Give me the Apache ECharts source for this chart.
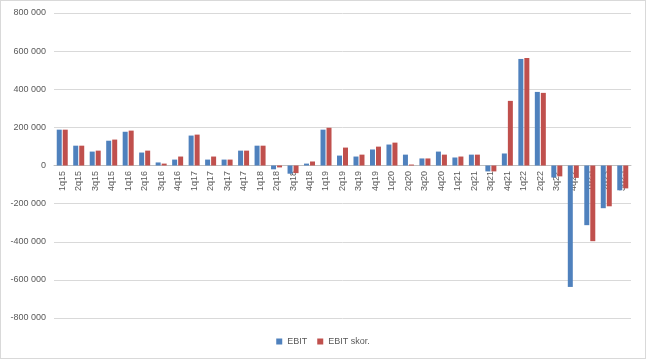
<!DOCTYPE html>
<html><head><meta charset="utf-8">
<script src="https://cdn.jsdelivr.net/npm/echarts@6/dist/echarts.min.js"></script>
<style>html,body{margin:0;padding:0;background:#fff}#c{width:646px;height:359px;box-sizing:border-box;border:1px solid #d9d9d9}</style>
</head><body><div id="c"></div>
<script>
const categories = ["1q15","2q15","3q15","4q15","1q16","2q16","3q16","4q16","1q17","2q17","3q17","4q17","1q18","2q18","3q18","4q18","1q19","2q19","3q19","4q19","1q20","2q20","3q20","4q20","1q21","2q21","3q21","4q21","1q22","2q22","3q22","4q22","1q23","2q23","3q23"];
const ebit = [188000,104000,73000,130000,177000,68000,16000,31000,157000,31000,31000,78000,104000,-20000,-43000,10000,188000,52000,47000,84000,110000,57000,37000,73000,42000,57000,-31000,63000,559000,386000,-63000,-637000,-313000,-224000,-130000];
const ebitSkor = [188000,104000,78000,136000,183000,78000,10000,47000,162000,47000,31000,78000,104000,-10000,-40000,21000,198000,94000,57000,99000,120000,5000,37000,57000,47000,57000,-31000,339000,564000,381000,-57000,-65000,-397000,-214000,-120000];
const seriesNames = ["EBIT","EBIT skor."];
const chart = echarts.init(document.getElementById('c'), null, {renderer:'canvas'});
const fmt = v => { const s = Math.abs(v).toString().replace(/\B(?=(\d{3})+(?!\d))/g,' '); return (v<0?'-':'')+s; };
chart.setOption({
  animation:false,
  textStyle:{fontFamily:'"Liberation Sans", Arial, sans-serif'},
  grid:{left:53,right:14,top:12,bottom:40,containLabel:false},
  legend:{bottom:7,left:'center',itemWidth:6,itemHeight:6,itemGap:10,icon:'rect',
    textStyle:{fontSize:9,color:'#595959'},data:seriesNames},
  xAxis:{type:'category',data:categories,position:'bottom',offset:-153,
    axisLine:{onZero:false,lineStyle:{color:'#bfbfbf'}},axisTick:{show:false},
    axisLabel:{rotate:90,fontSize:9,color:'#595959',interval:0,margin:6}},
  yAxis:{type:'value',min:-800000,max:800000,interval:200000,
    axisLine:{show:false},axisTick:{show:false},
    splitLine:{lineStyle:{color:'#d9d9d9'}},
    axisLabel:{fontSize:9,color:'#595959',formatter:fmt,margin:8}},
  series:[
    {name:seriesNames[0],type:'bar',data:ebit,barWidth:5,barGap:'20%',itemStyle:{color:'#4F81BD'}},
    {name:seriesNames[1],type:'bar',data:ebitSkor,barWidth:5,itemStyle:{color:'#C0504D'}}
  ]
});
</script></body></html>
